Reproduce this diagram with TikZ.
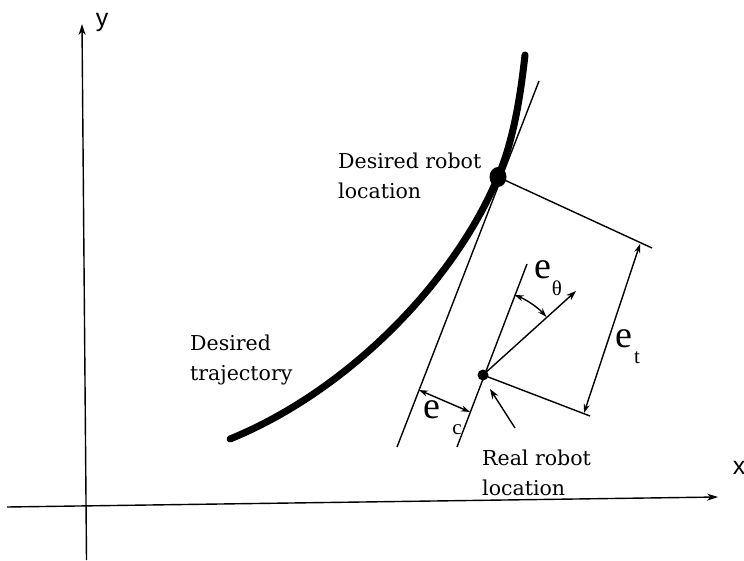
\documentclass[tikz,border=0pt]{standalone}
\usepackage{fontspec}
\setmainfont{DejaVu Serif}
\newfontfamily\axisfont{Liberation Sans}
\newfontfamily\errfont{Liberation Serif}
\usetikzlibrary{arrows.meta,shapes.geometric,calc}
\begin{document}
\begin{tikzpicture}[x=1pt,y=-1pt,
  geo/.style={line width=1.4pt},
  axisline/.style={line width=1.4pt,-{Stealth[length=11pt,width=7pt]}},
  dimline/.style={line width=1.4pt,{Stealth[length=9pt,width=6pt]}-{Stealth[length=9pt,width=6pt]}},
  onearrow/.style={line width=1.4pt,-{Stealth[length=10pt,width=7pt]}},
  traj/.style={line width=7pt,line cap=round},
  lbl/.style={font=\fontsize{20.5}{30}\selectfont,align=left,inner sep=0pt,anchor=base west},
  errlbl/.style={font=\errfont\fontsize{38}{38}\selectfont,inner sep=0pt},
  sublbl/.style={font=\errfont\fontsize{21}{21}\selectfont,inner sep=0pt},
  axlbl/.style={font=\axisfont\fontsize{25}{25}\selectfont,inner sep=0pt}]
\useasboundingbox (0,0) rectangle (744,561);
% axes
\coordinate (Y0) at (86.5,560);
\coordinate (Y1) at (82,24);
\coordinate (X0) at (7,507);
\coordinate (X1) at (718,497);
\draw[axisline] (Y0) -- (Y1);
\draw[axisline] (X0) -- (X1);
\node[axlbl] (ylab) at (102,22) {y};
\node[axlbl] (xlab) at (739,468) {x};
% points
\node[ellipse,fill,minimum width=17pt,minimum height=20pt,inner sep=0pt] (D) at (498,177) {};
\node[circle,fill,minimum size=11pt,inner sep=0pt] (R) at (483,375) {};
% trajectory
\coordinate (S0) at (230,439);
\coordinate (S1) at (525,55);
\draw[traj] (S0) .. controls (350,390) and (455,280) .. (D.center)
  .. controls (513,141) and (520,100) .. (S1);
% tangent line
\coordinate (T1) at (539,81);
\coordinate (T2) at (397,447);
\draw[geo] (T1) -- (T2);
% heading line
\coordinate (H1) at (527,264);
\coordinate (H2) at (457,447);
\draw[geo] (H1) -- (H2);
% heading arrow
\coordinate (HA) at (576,291);
\draw[onearrow] (R.center) -- (HA);
% extension lines
\coordinate (E1) at (652,248);
\coordinate (E2) at (590,416);
\draw[geo] (D.center) -- (E1);
\draw[geo] (R.center) -- (E2);
% e_t dimension
\coordinate (A1) at (584,413);
\coordinate (A2) at (640,244);
\draw[dimline] (A1) -- (A2);
% e_c dimension
\coordinate (C1) at (419,390);
\coordinate (C2) at (470,412);
\draw[dimline] (C1) -- (C2);
% e_theta arc
\draw[dimline] ([shift={(-68.5:86)}]R.center) arc (-68.5:-42.5:86);
% pointer to real robot
\coordinate (P1) at (515,428);
\coordinate (P2) at (490,389);
\draw[onearrow] (P1) -- (P2);
% error labels
\node[errlbl] (eth) at (543,270) {e};
\node[sublbl] (ethsub) at (557,288) {θ};
\node[errlbl] (et) at (624,339) {e};
\node[sublbl] (etsub) at (637,358) {t};
\node[errlbl] (ec) at (432,410) {e};
\node[sublbl] (ecsub) at (457,430) {c};
% text labels
\node[lbl] (desloc) at (338,199) {Desired robot\\location};
\node[lbl] (destraj) at (190,380) {Desired\\trajectory};
\node[lbl] (realloc) at (482,495) {Real robot\\location};
\end{tikzpicture}
\end{document}
